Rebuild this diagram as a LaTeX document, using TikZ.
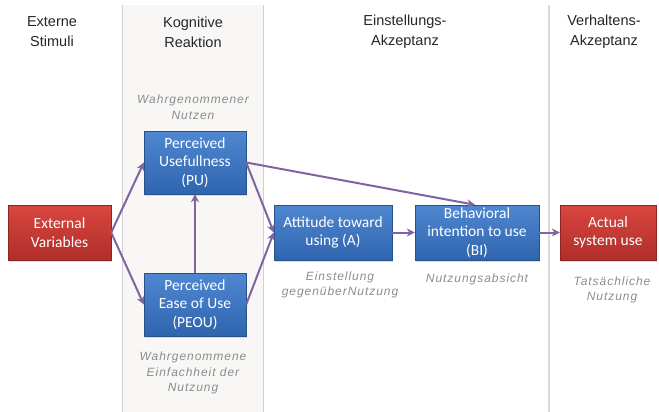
\documentclass[tikz,border=0pt]{standalone}
\usepackage{fontspec}
\setmainfont{Liberation Sans}
\newfontfamily\boxfont{Carlito}
\newfontfamily\labfont[LetterSpace=8]{Liberation Sans}
\usetikzlibrary{arrows.meta,shadows}
\definecolor{arrowc}{HTML}{8064A2}
\definecolor{bluetop}{HTML}{4F87D0}
\definecolor{bluebot}{HTML}{2F65AE}
\definecolor{redtop}{HTML}{D9463F}
\definecolor{redbot}{HTML}{B02E2A}
\definecolor{colfill}{HTML}{F8F7F5}
\definecolor{colline}{HTML}{D0D0D0}
\definecolor{labc}{HTML}{8C8C8C}
\tikzset{
  bluebox/.style={draw=bluebot!80!black, line width=0.4pt, top color=bluetop, bottom color=bluebot, text=white,
    font=\boxfont\fontsize{15.5}{18.5}\selectfont, align=center, inner sep=0pt, drop shadow={opacity=0.25,shadow xshift=1pt,shadow yshift=-1.5pt}},
  redbox/.style={bluebox, draw=redbot!80!black, top color=redtop, bottom color=redbot},
  header/.style={font=\fontsize{14.5}{20}\selectfont, align=center, text=black!85},
  lab/.style={font=\labfont\itshape\fontsize{12}{15.5}\selectfont, align=center, text=labc},
  conn/.style={draw=arrowc, line width=2pt, -{Stealth[length=8pt,width=8pt]}}
}
\begin{document}
\begin{tikzpicture}[x=1pt,y=-1pt]
\useasboundingbox (0,0) rectangle (659,412);
\fill[colfill] (122,5) rectangle (263,412);
\draw[colline, line width=0.8pt] (122,5) -- (122,412);
\draw[colline, line width=0.8pt] (263,5) -- (263,412);
\draw[colline!80, line width=1.5pt] (549,5) -- (549,412);

\node[header] (h1) at (52,32) {Externe\\Stimuli};
\node[header] (h2) at (193,32) {Kognitive\\Reaktion};
\node[header] (h3) at (405,32) {Einstellungs-\\Akzeptanz};
\node[header] (h4) at (604,32) {Verhaltens-\\Akzeptanz};

\node[lab] (l1) at (193,107) {Wahrgenommener\\Nutzen};
\node[lab] (l2) at (340,285) {Einstellung\\gegenüberNutzung};
\node[lab] (l3) at (477,279) {Nutzungsabsicht};
\node[lab] (l4) at (612,290) {Tatsächliche\\Nutzung};
\node[lab] (l5) at (193,373) {Wahrgenommene\\Einfachheit der\\Nutzung};

\node[bluebox, minimum width=102pt, minimum height=63pt] (pu) at (195,162.5) {Perceived\\Usefullness\\(PU)};
\node[bluebox, minimum width=102pt, minimum height=63pt] (peou) at (195,304.5) {Perceived\\Ease of Use\\(PEOU)};
\node[redbox, minimum width=103pt, minimum height=55pt] (ext) at (59.5,232.5) {External\\Variables};
\node[bluebox, minimum width=118pt, minimum height=55pt] (att) at (333,232.5) {Attitude toward\\using (A)};
\node[bluebox, minimum width=124pt, minimum height=55pt] (bi) at (477,232.5) {Behavioral\\intention to use\\(BI)};
\node[redbox, minimum width=96pt, minimum height=55pt] (asu) at (608,232.5) {Actual\\system use};

\draw[conn] (ext.east) -- (pu.west);
\draw[conn] (ext.east) -- (peou.west);
\draw[conn] (peou.north) -- (pu.south);
\draw[conn] (pu.east) -- (att.west);
\draw[conn] (peou.east) -- (att.west);
\draw[conn] (pu.east) -- ([xshift=-2pt]bi.north);
\draw[conn] (att.east) -- (bi.west);
\draw[conn] (bi.east) -- (asu.west);
\end{tikzpicture}
\end{document}
